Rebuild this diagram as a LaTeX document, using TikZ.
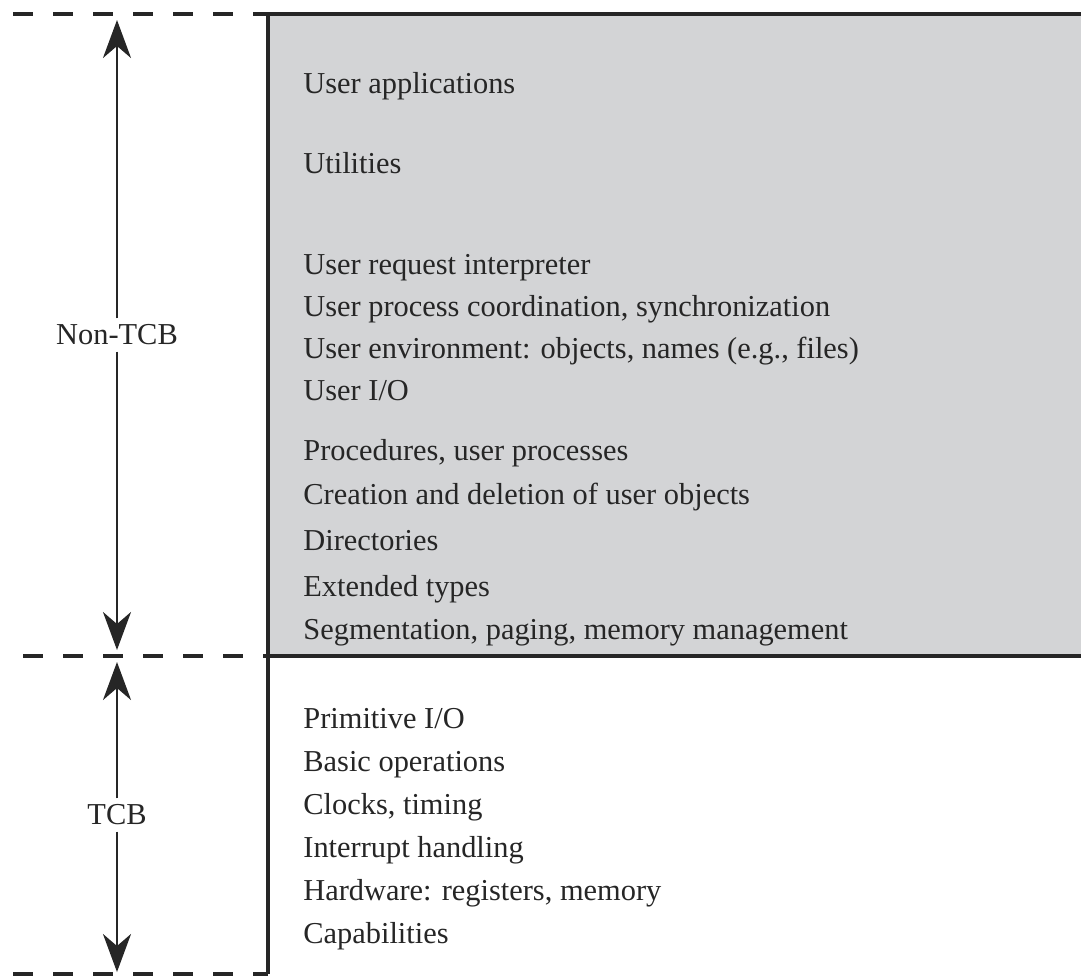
\documentclass[tikz,border=0pt]{standalone}
\usepackage{fontspec}
\setmainfont{Liberation Serif}
\usetikzlibrary{arrows.meta,positioning}
\definecolor{panelgray}{RGB}{211,212,214}
\definecolor{inkgray}{RGB}{38,38,38}
\tikzset{
  layer/.style={anchor=base west,font=\fontsize{15.2}{18}\selectfont,text=inkgray,inner sep=0pt},
  zone/.style={font=\fontsize{15.2}{18}\selectfont,text=inkgray,fill=white,inner sep=3pt},
  border/.style={line width=2pt,draw=inkgray},
  cut/.style={line width=1.6pt,draw=inkgray,dash pattern=on 10pt off 10pt},
  spanarrow/.style={line width=1.3pt,draw=inkgray,-{Stealth[length=19pt,width=14pt,inset=6pt]}}
}
\begin{document}
\begin{tikzpicture}[x=0.5pt,y=-0.5pt]
\useasboundingbox (0,0) rectangle (1081,976);
\fill[panelgray] (268,14) rectangle (1081,656);
\draw[border] (1081,14) -- (268,14) -- (268,974);
\draw[border] (268,656) -- (1081,656);
\draw[cut] (13,14) -- (268,14);
\draw[cut] (23,656) -- (268,656);
\draw[cut] (13,974) -- (268,974);

\node[zone] (nontcb) at (117,335) {Non-TCB};
\node[zone] (tcb) at (117,815) {TCB};
\coordinate (ntop) at (117,20);
\coordinate (nbot) at (117,650);
\coordinate (ttop) at (117,662);
\coordinate (tbot) at (117,972);
\draw[spanarrow] (nontcb) -- (ntop);
\draw[spanarrow] (nontcb) -- (nbot);
\draw[spanarrow] (tcb) -- (ttop);
\draw[spanarrow] (tcb) -- (tbot);

\foreach \yy/\txt [count=\i] in {93/User applications, 173/Utilities,
    274/User request interpreter, 316/{User process coordination, synchronization},
    358/{User environment: objects, names (e.g., files)}, 400/{User I/O},
    460/{Procedures, user processes}, 504/Creation and deletion of user objects,
    550/Directories, 596/Extended types, 639/{Segmentation, paging, memory management}}
  \node[layer] (n\i) at (303,\yy) {\txt};
\foreach \yy/\txt [count=\i] in {728/{Primitive I/O}, 771/Basic operations,
    814/{Clocks, timing}, 857/Interrupt handling,
    900/{Hardware: registers, memory}, 943/Capabilities}
  \node[layer] (t\i) at (303,\yy) {\txt};
\end{tikzpicture}
\end{document}
